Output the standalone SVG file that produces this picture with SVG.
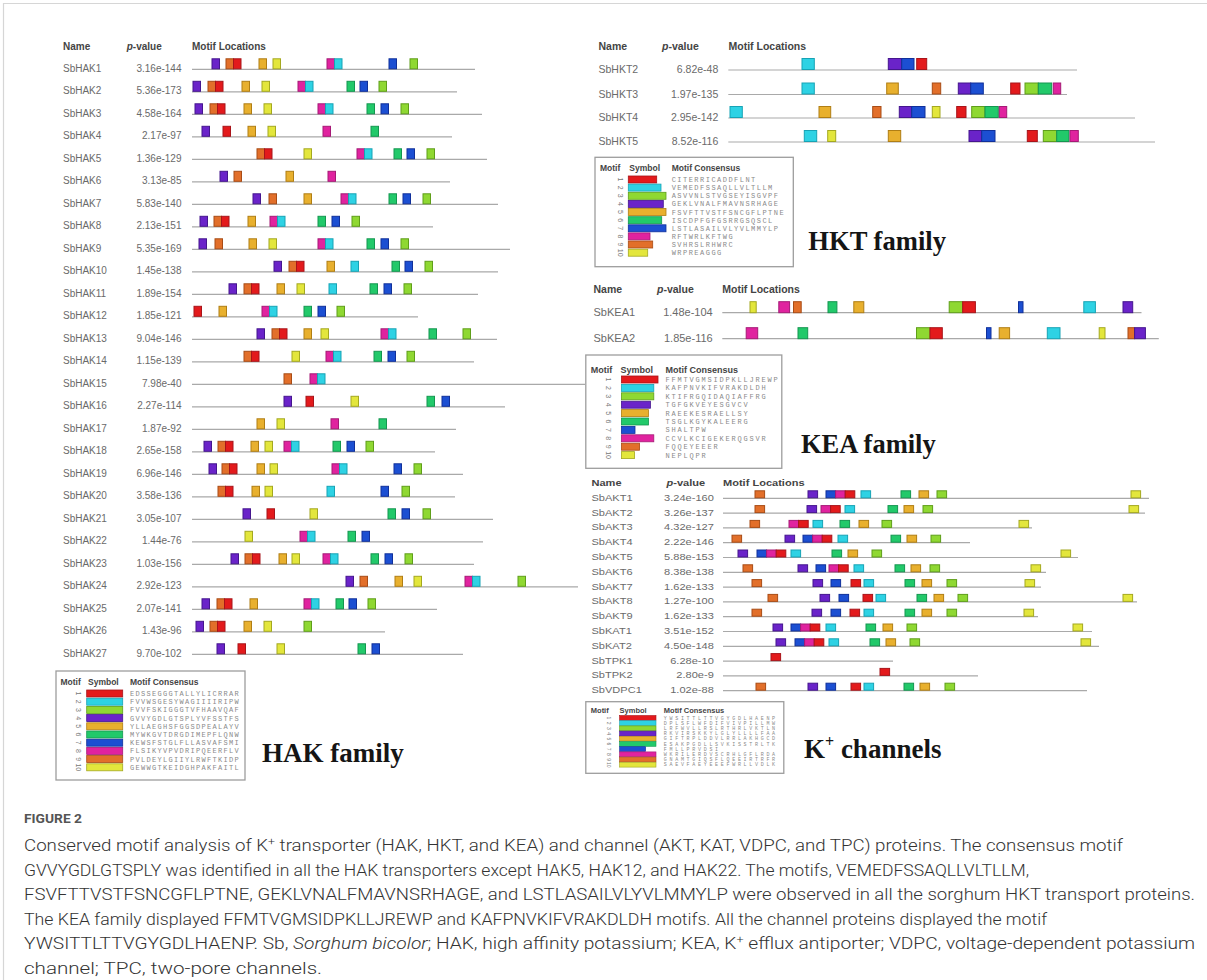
<svg xmlns="http://www.w3.org/2000/svg" xmlns:xlink="http://www.w3.org/1999/xlink" width="1207" height="980" viewBox="0 0 1207 980">
<style>
.k1{fill:#e31a1c;stroke:#a8141a}
.k2{fill:#2ed2e4;stroke:#17a3b5}
.k3{fill:#8fd832;stroke:#5f9e1a}
.k4{fill:#6a23c9;stroke:#45168e}
.k5{fill:#e8b02e;stroke:#b07e14}
.k6{fill:#22c96a;stroke:#149650}
.k7{fill:#1c4fd2;stroke:#10309a}
.k8{fill:#e0239f;stroke:#a51a76}
.k9{fill:#e26f2a;stroke:#a84c16}
.k10{fill:#e3e63c;stroke:#a4a820}
use,rect.bx{stroke-width:1}
.ln{stroke:#a9a9a9;stroke-width:1.2}
.nm{font-family:"Liberation Sans",Arial,sans-serif;fill:#6a6a6a}
.pv{text-anchor:end}
.hd{font-family:"Liberation Sans",Arial,sans-serif;font-weight:bold;fill:#444}
.lgb{fill:#fff;stroke:#9d9d9d;stroke-width:1.3}
.cs{font-family:"Liberation Mono","Courier New",monospace;fill:#8a8a8a}
.num{font-family:"Liberation Sans",Arial,sans-serif;font-size:7px;fill:#777;text-anchor:middle}
.fam{font-family:"Liberation Serif","Times New Roman",serif;font-weight:bold;fill:#151515}
.cap{font-family:Roboto,"Open Sans","Liberation Sans",sans-serif;font-weight:300;font-size:16px;fill:#333}
.fig{font-family:Roboto,"Open Sans","Liberation Sans",sans-serif;font-weight:bold;font-size:12.5px;fill:#555}
</style>
<defs>
<rect id="h" width="7.5" height="10" y="-10.5"/>
<rect id="kc" width="9.6" height="7" y="-7.5"/>
</defs>
<rect width="1207" height="980" fill="#fff"/>
<path d="M3.5,980 V3.5 H1207" fill="none" stroke="#d6d6d6" stroke-width="1.2"/>

<!-- ================= HAK family ================= -->
<g id="hak-panel">
<g id="hak-header" class="hd" font-size="10">
<text x="63" y="49.5">Name</text>
<text x="126.7" y="49.5"><tspan font-style="italic">p</tspan>-value</text>
<text x="192" y="49.5">Motif Locations</text>
</g>
<g class="nm" font-size="10">
<g id="SbHAK1" transform="translate(0,69.3)"><text x="63" y="2.5">SbHAK1</text><text class="pv" x="181.5" y="2.5">3.16e-144</text><line class="ln" x1="192" x2="475"/>
<use href="#h" x="212" class="k4"/><use href="#h" x="226" class="k9"/><use href="#h" x="233.5" class="k1"/><use href="#h" x="259" class="k5"/><use href="#h" x="273" class="k10"/><use href="#h" x="327" class="k8"/><use href="#h" x="334.5" class="k2"/><use href="#h" x="389" class="k7"/><use href="#h" x="410" class="k3"/></g>
<g id="SbHAK2" transform="translate(0,91.8)"><text x="63" y="2.5">SbHAK2</text><text class="pv" x="181.5" y="2.5">5.36e-173</text><line class="ln" x1="192" x2="457"/>
<use href="#h" x="193" class="k4"/><use href="#h" x="208" class="k9"/><use href="#h" x="215.5" class="k1"/><use href="#h" x="242" class="k5"/><use href="#h" x="262" class="k10"/><use href="#h" x="298" class="k8"/><use href="#h" x="305.5" class="k2"/><use href="#h" x="347" class="k6"/><use href="#h" x="360" class="k7"/><use href="#h" x="379" class="k3"/></g>
<g id="SbHAK3" transform="translate(0,114.3)"><text x="63" y="2.5">SbHAK3</text><text class="pv" x="181.5" y="2.5">4.58e-164</text><line class="ln" x1="192" x2="482"/>
<use href="#h" x="195" class="k4"/><use href="#h" x="210" class="k9"/><use href="#h" x="217.5" class="k1"/><use href="#h" x="244" class="k5"/><use href="#h" x="264" class="k10"/><use href="#h" x="318" class="k8"/><use href="#h" x="325.5" class="k2"/><use href="#h" x="367" class="k6"/><use href="#h" x="381" class="k7"/><use href="#h" x="401" class="k3"/></g>
<g id="SbHAK4" transform="translate(0,136.8)"><text x="63" y="2.5">SbHAK4</text><text class="pv" x="181.5" y="2.5">2.17e-97</text><line class="ln" x1="192" x2="452"/>
<use href="#h" x="202" class="k4"/><use href="#h" x="223" class="k1"/><use href="#h" x="248" class="k5"/><use href="#h" x="268" class="k10"/><use href="#h" x="323" class="k8"/><use href="#h" x="371" class="k6"/></g>
<g id="SbHAK5" transform="translate(0,159.3)"><text x="63" y="2.5">SbHAK5</text><text class="pv" x="181.5" y="2.5">1.36e-129</text><line class="ln" x1="192" x2="487"/>
<use href="#h" x="257" class="k9"/><use href="#h" x="264.5" class="k1"/><use href="#h" x="304" class="k10"/><use href="#h" x="357" class="k8"/><use href="#h" x="364.5" class="k2"/><use href="#h" x="394" class="k6"/><use href="#h" x="407" class="k7"/><use href="#h" x="427" class="k3"/></g>
<g id="SbHAK6" transform="translate(0,181.8)"><text x="63" y="2.5">SbHAK6</text><text class="pv" x="181.5" y="2.5">3.13e-85</text><line class="ln" x1="192" x2="450"/>
<use href="#h" x="220" class="k4"/><use href="#h" x="234" class="k9"/><use href="#h" x="286" class="k5"/><use href="#h" x="328" class="k8"/></g>
<g id="SbHAK7" transform="translate(0,204.3)"><text x="63" y="2.5">SbHAK7</text><text class="pv" x="181.5" y="2.5">5.83e-140</text><line class="ln" x1="192" x2="498"/>
<use href="#h" x="253" class="k4"/><use href="#h" x="269" class="k9"/><use href="#h" x="304" class="k5"/><use href="#h" x="341" class="k8"/><use href="#h" x="348.5" class="k2"/><use href="#h" x="389" class="k6"/><use href="#h" x="403" class="k7"/><use href="#h" x="423" class="k3"/></g>
<g id="SbHAK8" transform="translate(0,226.8)"><text x="63" y="2.5">SbHAK8</text><text class="pv" x="181.5" y="2.5">2.13e-151</text><line class="ln" x1="192" x2="433"/>
<use href="#h" x="200" class="k4"/><use href="#h" x="214" class="k9"/><use href="#h" x="221.5" class="k1"/><use href="#h" x="248" class="k5"/><use href="#h" x="270" class="k8"/><use href="#h" x="277.5" class="k2"/><use href="#h" x="318" class="k6"/><use href="#h" x="332" class="k7"/><use href="#h" x="352" class="k3"/></g>
<g id="SbHAK9" transform="translate(0,249.3)"><text x="63" y="2.5">SbHAK9</text><text class="pv" x="181.5" y="2.5">5.35e-169</text><line class="ln" x1="192" x2="510"/>
<use href="#h" x="199" class="k4"/><use href="#h" x="215" class="k9"/><use href="#h" x="249" class="k5"/><use href="#h" x="269" class="k10"/><use href="#h" x="318" class="k8"/><use href="#h" x="325.5" class="k2"/><use href="#h" x="367" class="k6"/><use href="#h" x="381" class="k7"/><use href="#h" x="401" class="k3"/></g>
<g id="SbHAK10" transform="translate(0,271.8)"><text x="63" y="2.5">SbHAK10</text><text class="pv" x="181.5" y="2.5">1.45e-138</text><line class="ln" x1="192" x2="498"/>
<use href="#h" x="274" class="k4"/><use href="#h" x="289" class="k9"/><use href="#h" x="296.5" class="k1"/><use href="#h" x="327" class="k5"/><use href="#h" x="351" class="k2"/><use href="#h" x="392" class="k6"/><use href="#h" x="405" class="k7"/><use href="#h" x="425" class="k3"/></g>
<g id="SbHAK11" transform="translate(0,294.3)"><text x="63" y="2.5">SbHAK11</text><text class="pv" x="181.5" y="2.5">1.89e-154</text><line class="ln" x1="192" x2="478"/>
<use href="#h" x="229" class="k4"/><use href="#h" x="244" class="k9"/><use href="#h" x="251.5" class="k1"/><use href="#h" x="277" class="k5"/><use href="#h" x="297" class="k10"/><use href="#h" x="329" class="k2"/><use href="#h" x="370" class="k6"/><use href="#h" x="384" class="k7"/><use href="#h" x="404" class="k3"/></g>
<g id="SbHAK12" transform="translate(0,316.8)"><text x="63" y="2.5">SbHAK12</text><text class="pv" x="181.5" y="2.5">1.85e-121</text><line class="ln" x1="192" x2="418"/>
<use href="#h" x="194" class="k1"/><use href="#h" x="219" class="k5"/><use href="#h" x="262" class="k8"/><use href="#h" x="269.5" class="k2"/><use href="#h" x="304" class="k6"/><use href="#h" x="318" class="k7"/><use href="#h" x="337" class="k3"/></g>
<g id="SbHAK13" transform="translate(0,339.3)"><text x="63" y="2.5">SbHAK13</text><text class="pv" x="181.5" y="2.5">9.04e-146</text><line class="ln" x1="192" x2="497"/>
<use href="#h" x="257" class="k4"/><use href="#h" x="272" class="k9"/><use href="#h" x="279.5" class="k1"/><use href="#h" x="304" class="k5"/><use href="#h" x="321" class="k10"/><use href="#h" x="381" class="k8"/><use href="#h" x="388.5" class="k2"/><use href="#h" x="429" class="k6"/><use href="#h" x="463" class="k3"/></g>
<g id="SbHAK14" transform="translate(0,361.8)"><text x="63" y="2.5">SbHAK14</text><text class="pv" x="181.5" y="2.5">1.15e-139</text><line class="ln" x1="192" x2="474"/>
<use href="#h" x="244" class="k9"/><use href="#h" x="251.5" class="k1"/><use href="#h" x="292" class="k10"/><use href="#h" x="326" class="k8"/><use href="#h" x="333.5" class="k2"/><use href="#h" x="374" class="k6"/><use href="#h" x="388" class="k7"/><use href="#h" x="407" class="k3"/></g>
<g id="SbHAK15" transform="translate(0,384.3)"><text x="63" y="2.5">SbHAK15</text><text class="pv" x="181.5" y="2.5">7.98e-40</text><line class="ln" x1="192" x2="585"/>
<use href="#h" x="284" class="k9"/><use href="#h" x="310" class="k8"/><use href="#h" x="317.5" class="k2"/></g>
<g id="SbHAK16" transform="translate(0,406.8)"><text x="63" y="2.5">SbHAK16</text><text class="pv" x="181.5" y="2.5">2.27e-114</text><line class="ln" x1="192" x2="505"/>
<use href="#h" x="284" class="k4"/><use href="#h" x="306" class="k1"/><use href="#h" x="351" class="k10"/><use href="#h" x="427" class="k6"/><use href="#h" x="442" class="k7"/></g>
<g id="SbHAK17" transform="translate(0,429.3)"><text x="63" y="2.5">SbHAK17</text><text class="pv" x="181.5" y="2.5">1.87e-92</text><line class="ln" x1="192" x2="456"/>
<use href="#h" x="257" class="k5"/><use href="#h" x="277" class="k10"/><use href="#h" x="331" class="k8"/><use href="#h" x="379" class="k6"/></g>
<g id="SbHAK18" transform="translate(0,451.8)"><text x="63" y="2.5">SbHAK18</text><text class="pv" x="181.5" y="2.5">2.65e-158</text><line class="ln" x1="192" x2="435"/>
<use href="#h" x="204" class="k4"/><use href="#h" x="218" class="k9"/><use href="#h" x="225.5" class="k1"/><use href="#h" x="251" class="k5"/><use href="#h" x="265" class="k10"/><use href="#h" x="284" class="k8"/><use href="#h" x="291.5" class="k2"/><use href="#h" x="333" class="k6"/><use href="#h" x="347" class="k7"/><use href="#h" x="366" class="k3"/></g>
<g id="SbHAK19" transform="translate(0,474.3)"><text x="63" y="2.5">SbHAK19</text><text class="pv" x="181.5" y="2.5">6.96e-146</text><line class="ln" x1="192" x2="463"/>
<use href="#h" x="209" class="k4"/><use href="#h" x="222" class="k9"/><use href="#h" x="229.5" class="k1"/><use href="#h" x="257" class="k5"/><use href="#h" x="270" class="k10"/><use href="#h" x="332" class="k8"/><use href="#h" x="339.5" class="k2"/><use href="#h" x="394" class="k7"/><use href="#h" x="414" class="k3"/></g>
<g id="SbHAK20" transform="translate(0,496.8)"><text x="63" y="2.5">SbHAK20</text><text class="pv" x="181.5" y="2.5">3.58e-136</text><line class="ln" x1="192" x2="455"/>
<use href="#h" x="218" class="k9"/><use href="#h" x="225.5" class="k1"/><use href="#h" x="252" class="k5"/><use href="#h" x="265" class="k10"/><use href="#h" x="327" class="k2"/><use href="#h" x="381" class="k7"/><use href="#h" x="402" class="k3"/></g>
<g id="SbHAK21" transform="translate(0,519.3)"><text x="63" y="2.5">SbHAK21</text><text class="pv" x="181.5" y="2.5">3.05e-107</text><line class="ln" x1="192" x2="493"/>
<use href="#h" x="243" class="k4"/><use href="#h" x="267" class="k1"/><use href="#h" x="310" class="k10"/><use href="#h" x="388" class="k6"/><use href="#h" x="402" class="k7"/><use href="#h" x="423" class="k3"/></g>
<g id="SbHAK22" transform="translate(0,541.8)"><text x="63" y="2.5">SbHAK22</text><text class="pv" x="181.5" y="2.5">1.44e-76</text><line class="ln" x1="192" x2="483"/>
<use href="#h" x="245" class="k10"/><use href="#h" x="300" class="k8"/><use href="#h" x="307.5" class="k2"/><use href="#h" x="348" class="k6"/><use href="#h" x="362" class="k7"/></g>
<g id="SbHAK23" transform="translate(0,564.3)"><text x="63" y="2.5">SbHAK23</text><text class="pv" x="181.5" y="2.5">1.03e-156</text><line class="ln" x1="192" x2="474"/>
<use href="#h" x="231" class="k4"/><use href="#h" x="245" class="k9"/><use href="#h" x="252.5" class="k1"/><use href="#h" x="279" class="k5"/><use href="#h" x="292" class="k10"/><use href="#h" x="323" class="k8"/><use href="#h" x="330.5" class="k2"/><use href="#h" x="371" class="k6"/><use href="#h" x="385" class="k7"/><use href="#h" x="405" class="k3"/></g>
<g id="SbHAK24" transform="translate(0,586.8)"><text x="63" y="2.5">SbHAK24</text><text class="pv" x="181.5" y="2.5">2.92e-123</text><line class="ln" x1="192" x2="578"/>
<use href="#h" x="346" class="k4"/><use href="#h" x="360" class="k9"/><use href="#h" x="395" class="k5"/><use href="#h" x="414" class="k10"/><use href="#h" x="465" class="k8"/><use href="#h" x="472.5" class="k2"/><use href="#h" x="518" class="k3"/></g>
<g id="SbHAK25" transform="translate(0,609.3)"><text x="63" y="2.5">SbHAK25</text><text class="pv" x="181.5" y="2.5">2.07e-141</text><line class="ln" x1="192" x2="437"/>
<use href="#h" x="202" class="k4"/><use href="#h" x="217" class="k9"/><use href="#h" x="224.5" class="k1"/><use href="#h" x="250" class="k5"/><use href="#h" x="304" class="k8"/><use href="#h" x="311.5" class="k2"/><use href="#h" x="336" class="k6"/><use href="#h" x="349" class="k7"/><use href="#h" x="368" class="k3"/></g>
<g id="SbHAK26" transform="translate(0,631.8)"><text x="63" y="2.5">SbHAK26</text><text class="pv" x="181.5" y="2.5">1.43e-96</text><line class="ln" x1="192" x2="385"/>
<use href="#h" x="196" class="k4"/><use href="#h" x="210" class="k9"/><use href="#h" x="217.5" class="k1"/><use href="#h" x="244" class="k5"/><use href="#h" x="264" class="k10"/><use href="#h" x="304" class="k3"/></g>
<g id="SbHAK27" transform="translate(0,654.3)"><text x="63" y="2.5">SbHAK27</text><text class="pv" x="181.5" y="2.5">9.70e-102</text><line class="ln" x1="192" x2="463"/>
<use href="#h" x="217" class="k4"/><use href="#h" x="238" class="k1"/><use href="#h" x="277" class="k10"/><use href="#h" x="358" class="k6"/><use href="#h" x="372" class="k7"/></g>
</g>
<g id="hak-legend">
<rect class="lgb" x="56" y="671" width="189" height="109"/>
<g class="hd" font-size="8.5"><text x="60.5" y="685">Motif</text><text x="88" y="685">Symbol</text><text x="130" y="685">Motif Consensus</text></g>
<g stroke-width="0.8">
<rect class="k1" x="86.7" y="690" width="36" height="7"/>
<rect class="k2" x="86.7" y="698.2" width="36" height="7"/>
<rect class="k3" x="86.7" y="706.4" width="36" height="7"/>
<rect class="k4" x="86.7" y="714.6" width="36" height="7"/>
<rect class="k5" x="86.7" y="722.8" width="36" height="7"/>
<rect class="k6" x="86.7" y="731" width="36" height="7"/>
<rect class="k7" x="86.7" y="739.2" width="36" height="7"/>
<rect class="k8" x="86.7" y="747.4" width="36" height="7"/>
<rect class="k9" x="86.7" y="755.6" width="36" height="7"/>
<rect class="k10" x="86.7" y="763.8" width="36" height="7"/>
</g>
<g class="num">
<text transform="translate(76,693.5) rotate(90)">1</text><text transform="translate(76,701.7) rotate(90)">2</text><text transform="translate(76,709.9) rotate(90)">3</text><text transform="translate(76,718.1) rotate(90)">4</text><text transform="translate(76,726.3) rotate(90)">5</text><text transform="translate(76,734.5) rotate(90)">6</text><text transform="translate(76,742.7) rotate(90)">7</text><text transform="translate(76,750.9) rotate(90)">8</text><text transform="translate(76,759.1) rotate(90)">9</text><text transform="translate(76,767.3) rotate(90)">10</text>
</g>
<g class="cs" font-size="7" letter-spacing="1.3">
<text x="130" y="696">EDSSEGGGTALLYLICRRAR</text>
<text x="130" y="704.2">FVVWSGESYWAGIIIIRIPW</text>
<text x="130" y="712.4">FVVFSKIGGGTVFHAAVQAF</text>
<text x="130" y="720.6">GVVYGDLGTSPLYVFSSTFS</text>
<text x="130" y="728.8">YLLAEGHSFGGSDPEALAYV</text>
<text x="130" y="737">MYWKGVTDRGDIMEPFLQNW</text>
<text x="130" y="745.2">KEWSFSTGLFLLASVAFSMI</text>
<text x="130" y="753.4">FLSIKYVPVDRIPQEERFLV</text>
<text x="130" y="761.6">PVLDEYLGIIYLRWFTKIDP</text>
<text x="130" y="769.8">GEWWGTKEIDGHPAKFAITL</text>
</g>
</g>
<text id="hak-title" class="fam" font-size="27" x="262" y="762">HAK family</text>
</g>

<!-- ================= HKT family ================= -->
<g id="hkt-panel">
<g class="hd" font-size="10.5">
<text x="598.5" y="49.5">Name</text>
<text x="662" y="49.5"><tspan font-style="italic">p</tspan>-value</text>
<text x="728.5" y="49.5">Motif Locations</text>
</g>
<g class="nm" font-size="10.5">
<g id="SbHKT2" transform="translate(0,70)"><text x="598.5" y="3">SbHKT2</text><text class="pv" x="718.3" y="3">6.82e-48</text><line class="ln" x1="728.3" x2="1077"/>
<rect class="k2" x="802" y="-11.5" width="12.3" height="11"/><rect class="k4" x="888.3" y="-11.5" width="13.4" height="11"/><rect class="k7" x="901.7" y="-11.5" width="12.3" height="11"/><rect class="k1" x="916.7" y="-11.5" width="10" height="11"/></g>
<g id="SbHKT3" transform="translate(0,94.5)"><text x="598.5" y="3">SbHKT3</text><text class="pv" x="718.3" y="3">1.97e-135</text><line class="ln" x1="728.3" x2="1067"/>
<rect class="k2" x="802" y="-11.5" width="12.3" height="11"/><rect class="k5" x="886.7" y="-11.5" width="11.6" height="11"/><rect class="k9" x="932.3" y="-11.5" width="8.4" height="11"/><rect class="k4" x="958.3" y="-11.5" width="12.4" height="11"/><rect class="k7" x="970.7" y="-11.5" width="12.6" height="11"/><rect class="k1" x="1010.7" y="-11.5" width="9.3" height="11"/><rect class="k3" x="1025" y="-11.5" width="13.3" height="11"/><rect class="k6" x="1038.3" y="-11.5" width="13.4" height="11"/><rect class="k8" x="1053.3" y="-11.5" width="7.4" height="11"/></g>
<g id="SbHKT4" transform="translate(0,118)"><text x="598.5" y="3">SbHKT4</text><text class="pv" x="718.3" y="3">2.95e-142</text><line class="ln" x1="728.3" x2="1135"/>
<rect class="k2" x="730" y="-11.5" width="12.3" height="11"/><rect class="k5" x="819" y="-11.5" width="11.7" height="11"/><rect class="k9" x="872.7" y="-11.5" width="8.3" height="11"/><rect class="k4" x="899.3" y="-11.5" width="12.4" height="11"/><rect class="k7" x="911.7" y="-11.5" width="13.3" height="11"/><rect class="k10" x="932.3" y="-11.5" width="7.7" height="11"/><rect class="k1" x="956.7" y="-11.5" width="9.3" height="11"/><rect class="k3" x="971.7" y="-11.5" width="13.3" height="11"/><rect class="k6" x="985" y="-11.5" width="13.3" height="11"/><rect class="k8" x="999.3" y="-11.5" width="7.4" height="11"/></g>
<g id="SbHKT5" transform="translate(0,142)"><text x="598.5" y="3">SbHKT5</text><text class="pv" x="718.3" y="3">8.52e-116</text><line class="ln" x1="728.3" x2="1155"/>
<rect class="k2" x="804.3" y="-11.5" width="12.4" height="11"/><rect class="k10" x="827.7" y="-11.5" width="8" height="11"/><rect class="k5" x="888.3" y="-11.5" width="12.4" height="11"/><rect class="k4" x="969" y="-11.5" width="12.7" height="11"/><rect class="k7" x="981.7" y="-11.5" width="13.3" height="11"/><rect class="k1" x="1027.3" y="-11.5" width="10" height="11"/><rect class="k3" x="1043.3" y="-11.5" width="13.4" height="11"/><rect class="k6" x="1056.7" y="-11.5" width="12.3" height="11"/><rect class="k8" x="1070" y="-11.5" width="8.3" height="11"/></g>
</g>
<g id="hkt-legend">
<rect class="lgb" x="595" y="157.3" width="198.3" height="109.4"/>
<g class="hd" font-size="8.5"><text x="600" y="171">Motif</text><text x="629.3" y="171">Symbol</text><text x="671.7" y="171">Motif Consensus</text></g>
<g stroke-width="0.8">
<rect class="k1" x="628.3" y="176" width="28.4" height="7"/>
<rect class="k2" x="628.3" y="184.1" width="32.7" height="7"/>
<rect class="k3" x="628.3" y="192.3" width="37.7" height="7"/>
<rect class="k4" x="628.3" y="200.4" width="35" height="7"/>
<rect class="k5" x="628.3" y="208.5" width="37.7" height="7"/>
<rect class="k6" x="628.3" y="216.7" width="33.4" height="7"/>
<rect class="k7" x="628.3" y="224.8" width="37.7" height="7"/>
<rect class="k8" x="628.3" y="232.9" width="21.7" height="7"/>
<rect class="k9" x="628.3" y="241" width="24.4" height="7"/>
<rect class="k10" x="628.3" y="249.2" width="19.4" height="7"/>
</g>
<g class="num">
<text transform="translate(618,179.5) rotate(90)">1</text><text transform="translate(618,187.6) rotate(90)">2</text><text transform="translate(618,195.8) rotate(90)">3</text><text transform="translate(618,203.9) rotate(90)">4</text><text transform="translate(618,212) rotate(90)">5</text><text transform="translate(618,220.2) rotate(90)">6</text><text transform="translate(618,228.3) rotate(90)">7</text><text transform="translate(618,236.4) rotate(90)">8</text><text transform="translate(618,244.5) rotate(90)">9</text><text transform="translate(618,252.7) rotate(90)">10</text>
</g>
<g class="cs" font-size="7" letter-spacing="1.47">
<text x="671.7" y="182">CITERRICADDFLNT</text>
<text x="671.7" y="190.1">VEMEDFSSAQLLVLTLLM</text>
<text x="671.7" y="198.3">ASVVNLSTVGSEYISGVPF</text>
<text x="671.7" y="206.4">GEKLVNALFMAVNSRHAGE</text>
<text x="671.7" y="214.5">FSVFTTVSTFSNCGFLPTNE</text>
<text x="671.7" y="222.7">ISCDPFGFGSRRGSQSCL</text>
<text x="671.7" y="230.8">LSTLASAILVLYVLMMYLP</text>
<text x="671.7" y="238.9">RFTWRLKFTWG</text>
<text x="671.7" y="247">SVHRSLRHWRC</text>
<text x="671.7" y="255.2">WRPREAGGG</text>
</g>
</g>
<text id="hkt-title" class="fam" font-size="26.6" x="808.3" y="250">HKT family</text>
</g>

<!-- ================= KEA family ================= -->
<g id="kea-panel">
<g class="hd" font-size="10.5">
<text x="593.5" y="293">Name</text>
<text x="657" y="293"><tspan font-style="italic">p</tspan>-value</text>
<text x="722.3" y="293">Motif Locations</text>
</g>
<g class="nm" font-size="11">
<g id="SbKEA1" transform="translate(0,312.7)"><text x="593.5" y="3">SbKEA1</text><text class="pv" x="712.7" y="3">1.48e-104</text><line class="ln" x1="722.3" x2="1141.5"/>
<rect class="k10" x="750" y="-11" width="6.2" height="11"/><rect class="k8" x="778.8" y="-11" width="10.8" height="11"/><rect class="k9" x="793.5" y="-11" width="7.7" height="11"/><rect class="k6" x="828" y="-11" width="8.9" height="11"/><rect class="k5" x="853.8" y="-11" width="10" height="11"/><rect class="k3" x="949.2" y="-11" width="13.5" height="11"/><rect class="k1" x="962.7" y="-11" width="12.7" height="11"/><rect class="k7" x="1018.5" y="-11" width="4.5" height="11"/><rect class="k2" x="1083.8" y="-11" width="11.6" height="11"/><rect class="k4" x="1123" y="-11" width="9.7" height="11"/></g>
<g id="SbKEA2" transform="translate(0,338.7)"><text x="593.5" y="3">SbKEA2</text><text class="pv" x="712.7" y="3">1.85e-116</text><line class="ln" x1="722.3" x2="1158.8"/>
<rect class="k8" x="746.2" y="-11" width="11.5" height="11"/><rect class="k6" x="798" y="-11" width="9.7" height="11"/><rect class="k3" x="916.5" y="-11" width="13.5" height="11"/><rect class="k1" x="930" y="-11" width="12.3" height="11"/><rect class="k7" x="986.5" y="-11" width="4.5" height="11"/><rect class="k5" x="999.2" y="-11" width="10.4" height="11"/><rect class="k2" x="1047.3" y="-11" width="12.7" height="11"/><rect class="k10" x="1099.2" y="-11" width="5.8" height="11"/><rect class="k9" x="1128" y="-11" width="6.6" height="11"/><rect class="k4" x="1134.6" y="-11" width="10.8" height="11"/></g>
</g>
<g id="kea-legend">
<rect class="lgb" x="585.8" y="355" width="196" height="113.3"/>
<g class="hd" font-size="9"><text x="590.8" y="372.5">Motif</text><text x="620.4" y="372.5">Symbol</text><text x="665.4" y="372.5">Motif Consensus</text></g>
<g stroke-width="0.8">
<rect class="k1" x="621.5" y="376" width="36.5" height="7"/>
<rect class="k2" x="621.5" y="384.4" width="32.3" height="7"/>
<rect class="k3" x="621.5" y="392.8" width="32.3" height="7"/>
<rect class="k4" x="621.5" y="401.2" width="28.9" height="7"/>
<rect class="k5" x="621.5" y="409.6" width="27" height="7"/>
<rect class="k6" x="621.5" y="418" width="27" height="7"/>
<rect class="k7" x="621.5" y="426.4" width="13.5" height="7"/>
<rect class="k8" x="621.5" y="434.8" width="32.3" height="7"/>
<rect class="k9" x="621.5" y="443.2" width="18.1" height="7"/>
<rect class="k10" x="621.5" y="451.6" width="13.1" height="7"/>
</g>
<g class="num">
<text transform="translate(606,379.5) rotate(90)">1</text><text transform="translate(606,387.9) rotate(90)">2</text><text transform="translate(606,396.3) rotate(90)">3</text><text transform="translate(606,404.7) rotate(90)">4</text><text transform="translate(606,413.1) rotate(90)">5</text><text transform="translate(606,421.5) rotate(90)">6</text><text transform="translate(606,429.9) rotate(90)">7</text><text transform="translate(606,438.3) rotate(90)">8</text><text transform="translate(606,446.7) rotate(90)">9</text><text transform="translate(606,455.1) rotate(90)">10</text>
</g>
<g class="cs" font-size="7" letter-spacing="1.8">
<text x="665.4" y="382">FFMTVGMSIDPKLLJREWP</text>
<text x="665.4" y="390.4">KAFPNVKIFVRAKDLDH</text>
<text x="665.4" y="398.8">KTIFRGQIDAQIAFFRG</text>
<text x="665.4" y="407.2">TGFGKVEYESGVCV</text>
<text x="665.4" y="415.6">RAEEKESRAELLSY</text>
<text x="665.4" y="424">TSGLKGYKALEERG</text>
<text x="665.4" y="432.4">SHALTPW</text>
<text x="665.4" y="440.8">CCVLKCIGEKERQGSVR</text>
<text x="665.4" y="449.2">FQQEYEEER</text>
<text x="665.4" y="457.6">NEPLQPR</text>
</g>
</g>
<text id="kea-title" class="fam" font-size="26.5" x="801" y="453.3">KEA family</text>
</g>

<!-- ================= K+ channels ================= -->
<g id="channel-panel">
<g class="hd" font-size="8.5">
<text transform="translate(591.5,485.5) scale(1.3,1)">Name</text>
<text transform="translate(666.5,485.5) scale(1.3,1)"><tspan font-style="italic">p</tspan>-value</text>
<text transform="translate(723,485.5) scale(1.3,1)">Motif Locations</text>
</g>
<g class="nm" font-size="8.5" fill="#777">
<g id="SbAKT1" transform="translate(0,498.3)"><text transform="translate(591.5,2.5) scale(1.3,1)">SbAKT1</text><text class="pv" transform="translate(713.8,2.5) scale(1.3,1)">3.24e-160</text><line class="ln" x1="723" x2="1149"/>
<use href="#kc" x="755" class="k9"/><use href="#kc" x="808" class="k4"/><use href="#kc" x="826" class="k7"/><use href="#kc" x="835.6" class="k8"/><use href="#kc" x="845.2" class="k1"/><use href="#kc" x="861" class="k2"/><use href="#kc" x="901" class="k6"/><use href="#kc" x="919" class="k5"/><use href="#kc" x="937" class="k3"/><use href="#kc" x="1131" class="k10"/></g>
<g id="SbAKT2" transform="translate(0,513.1)"><text transform="translate(591.5,2.5) scale(1.3,1)">SbAKT2</text><text class="pv" transform="translate(713.8,2.5) scale(1.3,1)">3.26e-137</text><line class="ln" x1="723" x2="1145"/>
<use href="#kc" x="755" class="k9"/><use href="#kc" x="807" class="k4"/><use href="#kc" x="821" class="k8"/><use href="#kc" x="830.6" class="k1"/><use href="#kc" x="845" class="k2"/><use href="#kc" x="888" class="k6"/><use href="#kc" x="904" class="k5"/><use href="#kc" x="923" class="k3"/><use href="#kc" x="1129" class="k10"/></g>
<g id="SbAKT3" transform="translate(0,527.9)"><text transform="translate(591.5,2.5) scale(1.3,1)">SbAKT3</text><text class="pv" transform="translate(713.8,2.5) scale(1.3,1)">4.32e-127</text><line class="ln" x1="723" x2="1032"/>
<use href="#kc" x="750" class="k9"/><use href="#kc" x="789" class="k8"/><use href="#kc" x="798.6" class="k1"/><use href="#kc" x="813" class="k2"/><use href="#kc" x="840" class="k6"/><use href="#kc" x="859" class="k5"/><use href="#kc" x="882" class="k3"/><use href="#kc" x="1019" class="k10"/></g>
<g id="SbAKT4" transform="translate(0,542.7)"><text transform="translate(591.5,2.5) scale(1.3,1)">SbAKT4</text><text class="pv" transform="translate(713.8,2.5) scale(1.3,1)">2.22e-146</text><line class="ln" x1="723" x2="970"/>
<use href="#kc" x="732" class="k9"/><use href="#kc" x="785" class="k4"/><use href="#kc" x="803" class="k7"/><use href="#kc" x="812.6" class="k8"/><use href="#kc" x="822.2" class="k1"/><use href="#kc" x="838" class="k2"/><use href="#kc" x="891" class="k6"/><use href="#kc" x="907" class="k5"/><use href="#kc" x="931" class="k3"/></g>
<g id="SbAKT5" transform="translate(0,557.5)"><text transform="translate(591.5,2.5) scale(1.3,1)">SbAKT5</text><text class="pv" transform="translate(713.8,2.5) scale(1.3,1)">5.88e-153</text><line class="ln" x1="723" x2="1078"/>
<use href="#kc" x="738" class="k4"/><use href="#kc" x="757" class="k7"/><use href="#kc" x="766.6" class="k8"/><use href="#kc" x="776.2" class="k1"/><use href="#kc" x="791" class="k2"/><use href="#kc" x="832" class="k6"/><use href="#kc" x="848" class="k5"/><use href="#kc" x="872" class="k3"/><use href="#kc" x="1061" class="k10"/></g>
<g id="SbAKT6" transform="translate(0,572.3)"><text transform="translate(591.5,2.5) scale(1.3,1)">SbAKT6</text><text class="pv" transform="translate(713.8,2.5) scale(1.3,1)">8.38e-138</text><line class="ln" x1="723" x2="1046"/>
<use href="#kc" x="743" class="k9"/><use href="#kc" x="798" class="k4"/><use href="#kc" x="816" class="k7"/><use href="#kc" x="829" class="k8"/><use href="#kc" x="838.6" class="k1"/><use href="#kc" x="854" class="k2"/><use href="#kc" x="895" class="k6"/><use href="#kc" x="911" class="k5"/><use href="#kc" x="930" class="k3"/><use href="#kc" x="1031" class="k10"/></g>
<g id="SbAKT7" transform="translate(0,587.1)"><text transform="translate(591.5,2.5) scale(1.3,1)">SbAKT7</text><text class="pv" transform="translate(713.8,2.5) scale(1.3,1)">1.62e-133</text><line class="ln" x1="723" x2="1041"/>
<use href="#kc" x="752" class="k9"/><use href="#kc" x="813" class="k4"/><use href="#kc" x="831" class="k7"/><use href="#kc" x="851" class="k1"/><use href="#kc" x="864" class="k2"/><use href="#kc" x="905" class="k6"/><use href="#kc" x="922" class="k5"/><use href="#kc" x="947" class="k3"/><use href="#kc" x="1025" class="k10"/></g>
<g id="SbAKT8" transform="translate(0,601.9)"><text transform="translate(591.5,2.5) scale(1.3,1)">SbAKT8</text><text class="pv" transform="translate(713.8,2.5) scale(1.3,1)">1.27e-100</text><line class="ln" x1="723" x2="1137"/>
<use href="#kc" x="768" class="k9"/><use href="#kc" x="820" class="k4"/><use href="#kc" x="839" class="k7"/><use href="#kc" x="863" class="k1"/><use href="#kc" x="876" class="k2"/><use href="#kc" x="917" class="k6"/><use href="#kc" x="934" class="k5"/><use href="#kc" x="958" class="k3"/><use href="#kc" x="1123" class="k10"/></g>
<g id="SbAKT9" transform="translate(0,616.7)"><text transform="translate(591.5,2.5) scale(1.3,1)">SbAKT9</text><text class="pv" transform="translate(713.8,2.5) scale(1.3,1)">1.62e-133</text><line class="ln" x1="723" x2="1038"/>
<use href="#kc" x="752" class="k9"/><use href="#kc" x="812" class="k4"/><use href="#kc" x="831" class="k7"/><use href="#kc" x="850" class="k1"/><use href="#kc" x="864" class="k2"/><use href="#kc" x="905" class="k6"/><use href="#kc" x="922" class="k5"/><use href="#kc" x="947" class="k3"/><use href="#kc" x="1024" class="k10"/></g>
<g id="SbKAT1" transform="translate(0,631.5)"><text transform="translate(591.5,2.5) scale(1.3,1)">SbKAT1</text><text class="pv" transform="translate(713.8,2.5) scale(1.3,1)">3.51e-152</text><line class="ln" x1="723" x2="1092"/>
<use href="#kc" x="773" class="k4"/><use href="#kc" x="791" class="k7"/><use href="#kc" x="800.6" class="k8"/><use href="#kc" x="810.2" class="k1"/><use href="#kc" x="826" class="k2"/><use href="#kc" x="866" class="k6"/><use href="#kc" x="883" class="k5"/><use href="#kc" x="907" class="k3"/><use href="#kc" x="1073" class="k10"/></g>
<g id="SbKAT2" transform="translate(0,646.3)"><text transform="translate(591.5,2.5) scale(1.3,1)">SbKAT2</text><text class="pv" transform="translate(713.8,2.5) scale(1.3,1)">4.50e-148</text><line class="ln" x1="723" x2="1099"/>
<use href="#kc" x="776" class="k4"/><use href="#kc" x="795" class="k7"/><use href="#kc" x="804.6" class="k8"/><use href="#kc" x="814.2" class="k1"/><use href="#kc" x="829" class="k2"/><use href="#kc" x="870" class="k6"/><use href="#kc" x="886" class="k5"/><use href="#kc" x="910" class="k3"/><use href="#kc" x="1081" class="k10"/></g>
<g id="SbTPK1" transform="translate(0,661.1)"><text transform="translate(591.5,2.5) scale(1.3,1)">SbTPK1</text><text class="pv" transform="translate(713.8,2.5) scale(1.3,1)">6.28e-10</text><line class="ln" x1="723" x2="893"/>
<use href="#kc" x="771" class="k1"/></g>
<g id="SbTPK2" transform="translate(0,675.9)"><text transform="translate(591.5,2.5) scale(1.3,1)">SbTPK2</text><text class="pv" transform="translate(713.8,2.5) scale(1.3,1)">2.80e-9</text><line class="ln" x1="723" x2="978"/>
<use href="#kc" x="880" class="k1"/></g>
<g id="SbVDPC1" transform="translate(0,690.7)"><text transform="translate(591.5,2.5) scale(1.3,1)">SbVDPC1</text><text class="pv" transform="translate(713.8,2.5) scale(1.3,1)">1.02e-88</text><line class="ln" x1="723" x2="1087"/>
<use href="#kc" x="756" class="k9"/><use href="#kc" x="808" class="k4"/><use href="#kc" x="826" class="k7"/><use href="#kc" x="851" class="k1"/><use href="#kc" x="864" class="k2"/><use href="#kc" x="904" class="k6"/><use href="#kc" x="920" class="k5"/><use href="#kc" x="945" class="k3"/></g>
</g>
<g id="channel-legend">
<rect class="lgb" x="585.8" y="701.7" width="198" height="71.6"/>
<g class="hd" font-size="7.5"><text x="590.8" y="713">Motif</text><text x="619.6" y="713">Symbol</text><text x="663.8" y="713">Motif Consensus</text></g>
<g stroke-width="0.6">
<rect class="k1" x="619.6" y="715.5" width="36.4" height="4.8"/>
<rect class="k2" x="619.6" y="720.7" width="36.4" height="4.8"/>
<rect class="k3" x="619.6" y="725.9" width="36.4" height="4.8"/>
<rect class="k4" x="619.6" y="731.1" width="36.4" height="4.8"/>
<rect class="k5" x="619.6" y="736.3" width="36.4" height="4.8"/>
<rect class="k6" x="619.6" y="741.5" width="36.4" height="4.8"/>
<rect class="k7" x="619.6" y="746.7" width="26" height="4.8"/>
<rect class="k8" x="619.6" y="751.9" width="36.4" height="4.8"/>
<rect class="k9" x="619.6" y="757.1" width="36.4" height="4.8"/>
<rect class="k10" x="619.6" y="762.3" width="36.4" height="4.8"/>
</g>
<g class="num">
<text transform="translate(607,718) rotate(90)" font-size="5">1</text><text transform="translate(607,723.2) rotate(90)" font-size="5">2</text><text transform="translate(607,728.4) rotate(90)" font-size="5">3</text><text transform="translate(607,733.6) rotate(90)" font-size="5">4</text><text transform="translate(607,738.8) rotate(90)" font-size="5">5</text><text transform="translate(607,744) rotate(90)" font-size="5">6</text><text transform="translate(607,749.2) rotate(90)" font-size="5">7</text><text transform="translate(607,754.4) rotate(90)" font-size="5">8</text><text transform="translate(607,759.6) rotate(90)" font-size="5">9</text><text transform="translate(607,764.8) rotate(90)" font-size="5">10</text>
</g>
<g class="cs" font-size="5" letter-spacing="2.7">
<text x="663.8" y="719.6">YWSITTLTTVGYGDLHAENP</text>
<text x="663.8" y="724.8">DPLSFLWFDIFVIVPILLMW</text>
<text x="663.8" y="730">LRFWVLLRSLRTHRLVKTLN</text>
<text x="663.8" y="735.2">RKVIRSKKYLGLYLLLLFAA</text>
<text x="663.8" y="740.4">GIFTRPLDDVLRRLAKHGCD</text>
<text x="663.8" y="745.6">ESAKPGDLLSVKISSTRLTK</text>
<text x="663.8" y="750.8">FMLLPRVDSI</text>
<text x="663.8" y="756">WKRILERDVSCRHLGFLRDA</text>
<text x="663.8" y="761.2">GNAMTGIQSFLQEEIRTRFR</text>
<text x="663.8" y="766.4">SAEVFAEYEEEFWRLLVDLK</text>
</g>
</g>
<text id="channel-title" class="fam" font-size="27" x="804" y="758.3">K<tspan font-size="16" dy="-11">+</tspan><tspan dy="11"> channels</tspan></text>
</g>

<!-- ================= Caption ================= -->
<g id="caption">
<text class="fig" x="24" y="823" textLength="58" lengthAdjust="spacingAndGlyphs">FIGURE 2</text>
<text class="cap" x="24" y="851" textLength="1099" lengthAdjust="spacingAndGlyphs">Conserved motif analysis of K<tspan font-size="10.5" dy="-6">+</tspan><tspan dy="6"> transporter (HAK, HKT, and KEA) and channel (AKT, KAT, VDPC, and TPC) proteins. The consensus motif</tspan></text>
<text class="cap" x="24" y="875.5" textLength="1005" lengthAdjust="spacingAndGlyphs">GVVYGDLGTSPLY was identified in all the HAK transporters except HAK5, HAK12, and HAK22. The motifs, VEMEDFSSAQLLVLTLLM,</text>
<text class="cap" x="24" y="900" textLength="1171" lengthAdjust="spacingAndGlyphs">FSVFTTVSTFSNCGFLPTNE, GEKLVNALFMAVNSRHAGE, and LSTLASAILVLYVLMMYLP were observed in all the sorghum HKT transport proteins.</text>
<text class="cap" x="24" y="924.5" textLength="1023" lengthAdjust="spacingAndGlyphs">The KEA family displayed FFMTVGMSIDPKLLJREWP and KAFPNVKIFVRAKDLDH motifs. All the channel proteins displayed the motif</text>
<text class="cap" x="24" y="949" textLength="1171" lengthAdjust="spacingAndGlyphs">YWSITTLTTVGYGDLHAENP. Sb, <tspan font-style="italic">Sorghum bicolor</tspan>; HAK, high affinity potassium; KEA, K<tspan font-size="10.5" dy="-6">+</tspan><tspan dy="6"> efflux antiporter; VDPC, voltage-dependent potassium</tspan></text>
<text class="cap" x="24" y="973.5" textLength="298" lengthAdjust="spacingAndGlyphs">channel; TPC, two-pore channels.</text>
</g>
</svg>
